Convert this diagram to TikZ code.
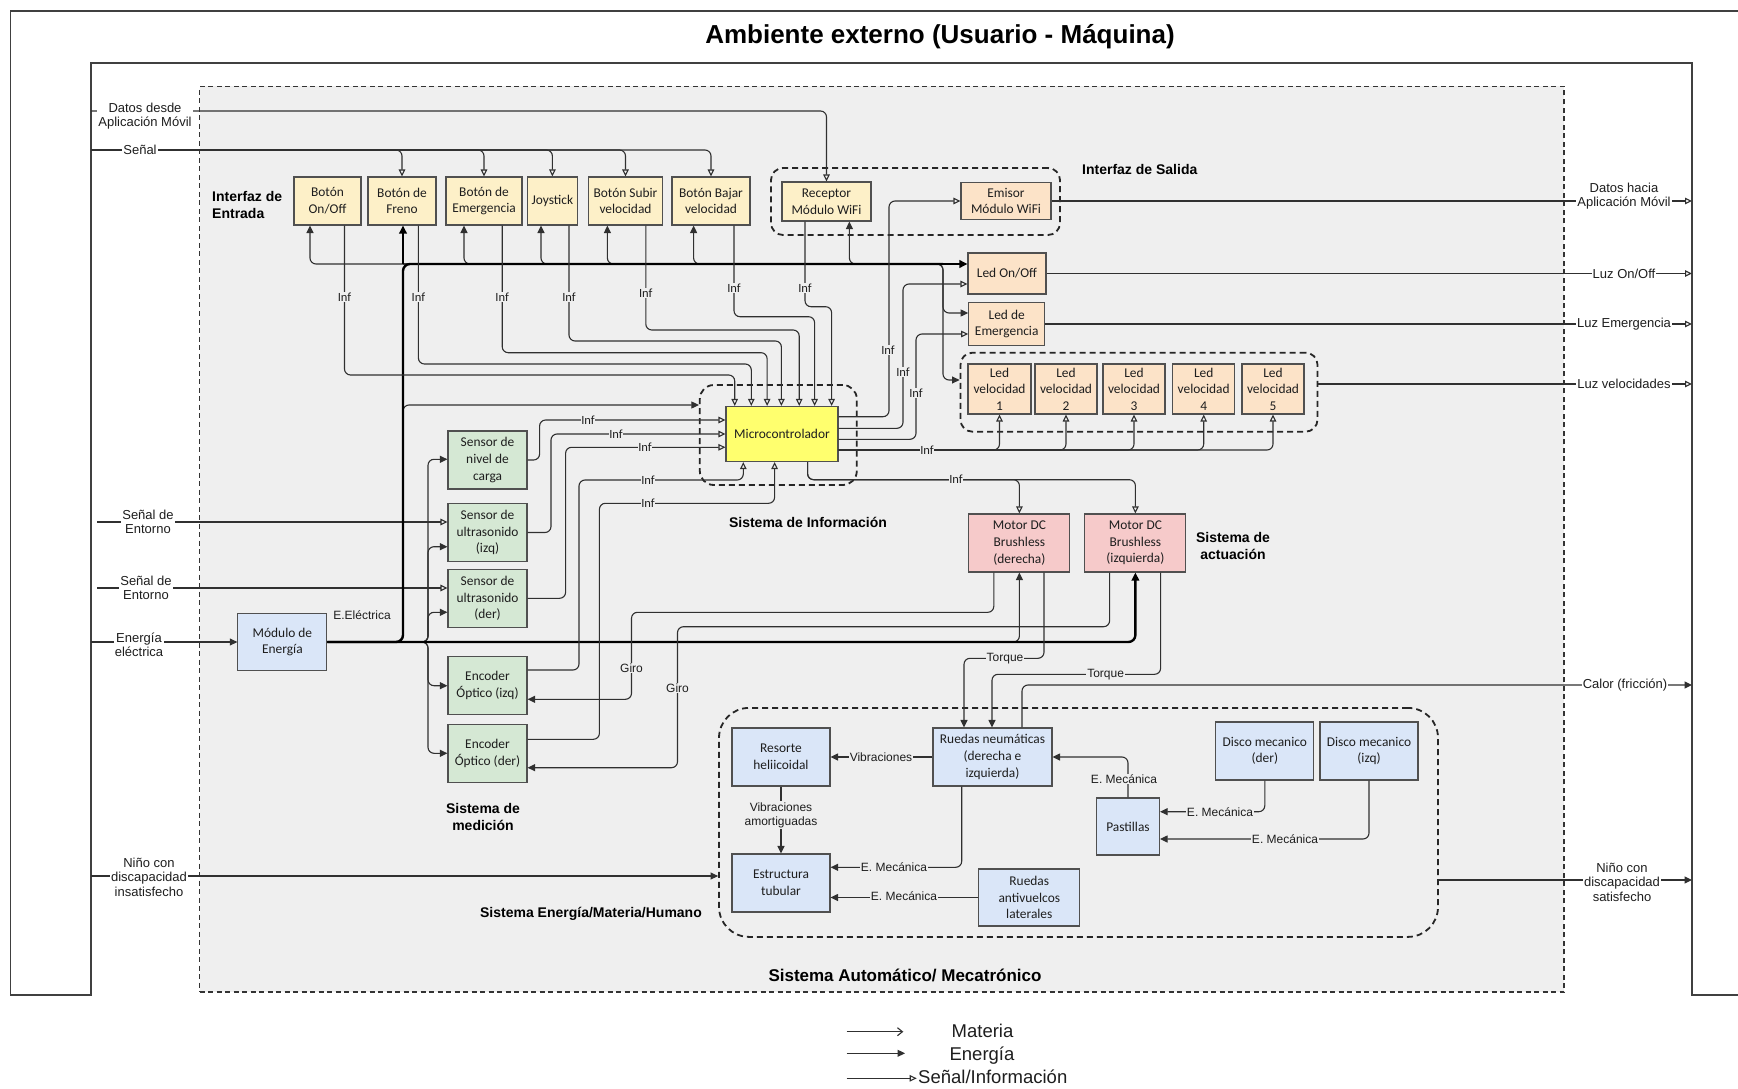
\documentclass[tikz,border=0pt]{standalone}
\usepackage{fontspec}
\setmainfont{Liberation Sans}
\newfontfamily\boxfont{Carlito}
\usetikzlibrary{arrows.meta}
\definecolor{lc}{HTML}{303030}
\definecolor{bd}{HTML}{505050}
\definecolor{txt}{HTML}{1E1E1E}
\definecolor{cbg}{HTML}{EFEFEF}
\definecolor{cyel}{HTML}{FDF0C8}
\definecolor{cmic}{HTML}{FFFF6E}
\definecolor{cled}{HTML}{FCE3C8}
\definecolor{cmot}{HTML}{F6CACA}
\definecolor{cgrn}{HTML}{D5E8D4}
\definecolor{cblu}{HTML}{DAE6F8}
\begin{document}
\begin{tikzpicture}[x=1pt,y=-1pt]
\tikzset{
  box/.style={draw=bd, line width=1.1pt, align=center, inner sep=0pt, text=txt,
    font=\boxfont\fontsize{13.4}{16.6}\selectfont},
  yel/.style={box, fill=cyel},
  mic/.style={box, fill=cmic},
  ledb/.style={box, fill=cled},
  mot/.style={box, fill=cmot},
  grn/.style={box, fill=cgrn},
  blu/.style={box, fill=cblu},
  grp/.style={draw=black!85, line width=1.8pt, dash pattern=on 6pt off 4pt, rounded corners=12pt, inner sep=0pt},
  sysbox/.style={draw=black!80, fill=cbg, line width=1.3pt, dash pattern=on 5pt off 3.5pt, inner sep=0pt},
  frame/.style={draw=black!75, line width=1.5pt},
  ln/.style={draw=lc, line width=1.1pt, rounded corners=6pt},
  info/.style={ln, -{Triangle[open, length=7pt, width=6.5pt]}},
  enr/.style={ln, -{Triangle[length=7.5pt, width=7pt]}},
  mat/.style={ln, -{Straight Barb[length=5pt, width=8pt]}},
  bus/.style={draw=black, line width=2.4pt, rounded corners=7pt},
  busarr/.style={bus, -{Triangle[length=8pt, width=7.5pt]}},
  elbl/.style={fill=white, inner sep=1pt, align=center, text=txt, font=\fontsize{13}{14.4}\selectfont},
  clbl/.style={fill=cbg, inner sep=1pt, align=center, text=txt, font=\fontsize{12}{14}\selectfont},
  inf/.style={fill=cbg, inner sep=0.6pt, text=txt, font=\boxfont\fontsize{12.5}{13}\selectfont},
  glbl/.style={align=center, inner sep=0pt, text=black, font=\bfseries\fontsize{14}{16.5}\selectfont},
  lgnd/.style={text=txt, inner sep=0pt, font=\fontsize{18.5}{20}\selectfont},
}
\useasboundingbox (0,0) rectangle (1738,1089);
\fill[white] (0,0) rectangle (1738,1089);

% environment frame
\draw[frame] (1738,11) -- (10.5,11) -- (10.5,995) -- (91,995) -- (91,63) -- (1692,63) -- (1692,995) -- (1738,995);
\node[font=\bfseries\fontsize{26}{30}\selectfont, text=black] (title) at (940,37) {Ambiente externo (Usuario - Máquina)};

% system boundary
\node[sysbox, minimum width=1364.5, minimum height=905.5] (sys) at (881.75,539.25) {};
\node[glbl, font=\bfseries\fontsize{17}{20}\selectfont] (tSys) at (905,975) {Sistema Automático/ Mecatrónico};

% sub-system groups
\node[grp, minimum width=289, minimum height=67] (gSal) at (915.5,201.5) {};
\node[grp, rounded corners=14pt, minimum width=157, minimum height=100] (gMic) at (778.3,435) {};
\node[grp, minimum width=357, minimum height=79] (gLed) at (1139,392.2) {};
\node[grp, rounded corners=30pt, minimum width=719, minimum height=229] (gBot) at (1078.5,822.4) {};

% input interface
\node[yel, minimum width=67, minimum height=48] (onoff) at (327.5,201) {Botón\\On/Off};
\node[yel, minimum width=68, minimum height=48] (freno) at (402,201) {Botón de\\Freno};
\node[yel, minimum width=76, minimum height=48] (emerg) at (484,201) {Botón de\\Emergencia};
\node[yel, minimum width=50, minimum height=48] (joy) at (552.4,201) {Joystick};
\node[yel, minimum width=74, minimum height=48] (subir) at (625.5,201) {Botón Subir\\velocidad};
\node[yel, minimum width=78, minimum height=48] (bajar) at (711,201) {Botón Bajar\\velocidad};
\node[yel, minimum width=89, minimum height=39] (receptor) at (826.5,201.5) {Receptor\\Módulo WiFi};

% output interface
\node[ledb, minimum width=90, minimum height=37] (emisor) at (1006,201) {Emisor\\Módulo WiFi};
\node[ledb, minimum width=78, minimum height=41] (ledonoff) at (1007,273.5) {Led On/Off};
\node[ledb, minimum width=76, minimum height=43] (ledemerg) at (1006.7,324) {Led de\\Emergencia};
\node[ledb, minimum width=63, minimum height=50] (led1) at (999.5,389) {Led\\velocidad\\1};
\node[ledb, minimum width=62, minimum height=50] (led2) at (1066,389) {Led\\velocidad\\2};
\node[ledb, minimum width=62, minimum height=50] (led3) at (1134,389) {Led\\velocidad\\3};
\node[ledb, minimum width=62, minimum height=50] (led4) at (1203.7,389) {Led\\velocidad\\4};
\node[ledb, minimum width=62, minimum height=50] (led5) at (1273,389) {Led\\velocidad\\5};

% information, actuation, measurement, energy
\node[mic, minimum width=112, minimum height=55] (micro) at (782,434) {Microcontrolador};
\node[mot, minimum width=101, minimum height=58] (motorD) at (1019.4,543) {Motor DC\\Brushless\\(derecha)};
\node[mot, minimum width=101, minimum height=58] (motorI) at (1135.4,543) {Motor DC\\Brushless\\(izquierda)};
\node[grn, minimum width=79, minimum height=58] (nivel) at (487.5,460) {Sensor de\\nivel de\\carga};
\node[grn, minimum width=79, minimum height=58] (usI) at (487.5,532.5) {Sensor de\\ultrasonido\\(izq)};
\node[grn, minimum width=79, minimum height=58] (usD) at (487.5,598.3) {Sensor de\\ultrasonido\\(der)};
\node[grn, minimum width=79, minimum height=58] (encI) at (487.5,685.5) {Encoder\\Óptico (izq)};
\node[grn, minimum width=79, minimum height=58] (encD) at (487.5,753.5) {Encoder\\Óptico (der)};
\node[blu, minimum width=89, minimum height=57] (modE) at (282.4,642) {Módulo de\\Energía};

% mechanical subsystem
\node[blu, minimum width=98, minimum height=58] (resorte) at (781,757) {Resorte\\heliicoidal};
\node[blu, minimum width=98, minimum height=58] (estructura) at (781,883) {Estructura\\tubular};
\node[blu, minimum width=119, minimum height=58] (ruedas) at (992.5,757) {Ruedas neumáticas\\(derecha e\\izquierda)};
\node[blu, minimum width=101, minimum height=57] (antiv) at (1029.3,897.5) {Ruedas\\antivuelcos\\laterales};
\node[blu, minimum width=63, minimum height=57] (pastillas) at (1128,826.5) {Pastillas};
\node[blu, minimum width=98, minimum height=58] (discoD) at (1264.8,751) {Disco mecanico\\(der)};
\node[blu, minimum width=98, minimum height=58] (discoI) at (1369,751) {Disco mecanico\\(izq)};

% free ends on the environment frame and bus junctions
\coordinate (inDatos) at (91,111);
\coordinate (inSenal) at (91,150);
\coordinate (inEnt1) at (97,522);
\coordinate (inEnt2) at (97,588);
\coordinate (inEner) at (91,642);
\coordinate (inNino) at (91,876);
\coordinate (outDatos) at (1692,201);
\coordinate (outOnOff) at (1692,273.5);
\coordinate (outEmerg) at (1692,324);
\coordinate (outVel) at (1692,384);
\coordinate (outCalor) at (1692,685);
\coordinate (outNino) at (1692,880);
\coordinate (bNW) at (403,264);
\coordinate (bNE) at (943,264);

% external inputs
\draw[info] (inDatos) -| (receptor.north);
\foreach \b in {freno,emerg,joy,subir,bajar} \draw[info] (inSenal) -| (\b.north);
\draw[info] (inEnt1) -- (usI.west |- inEnt1);
\draw[info] (inEnt2) -- (usD.west |- inEnt2);
\draw[enr] (inEner) -- (modE.west);
\draw[enr] (inNino) -- (gBot.west |- inNino);

% external outputs
\draw[info] (emisor.east) -- (outDatos);
\draw[info] (ledonoff.east) -- (outOnOff);
\draw[info] (ledemerg.east) -- (outEmerg);
\draw[info] (gLed.east |- outVel) -- (outVel);
\draw[enr] (ruedas.north -| 1022,0) |- (outCalor);
\draw[enr] (gBot.east |- outNino) -- (outNino);

% energy branches
\draw[enr] (bNE) -| (onoff.south -| 310,0);
\draw[enr] (bNE) -| (emerg.south -| 464,0);
\draw[enr] (bNE) -| (joy.south -| 541,0);
\draw[enr] (bNE) -| (subir.south -| 607.4,0);
\draw[enr] (bNE) -| (bajar.south -| 693.6,0);
\draw[enr] (bNE) -| (receptor.south -| 849.4,0);
\draw[enr] (bNW) -| (943,313) -- (ledemerg.west |- 0,313);
\draw[enr] (bNW) -| (943,380) -- (gLed.west |- 0,380);
\draw[enr] (modE.east) -| (403,405) -- (gMic.west |- 0,405);
\foreach \s/\y in {nivel/459.3, usI/546.7, usD/612.3, encI/685.7, encD/753.3}
  \draw[enr] (modE.east) -| (428,\y) -- (\s.west |- 0,\y);
\draw[enr] (modE.east) -| (motorD.south);

% power bus
\draw[bus] (modE.east) -| (bNW) -- (bNE);
\draw[busarr] (bNW) -- (freno.south -| bNW);
\draw[busarr] (bNE) -- (ledonoff.west |- bNE);
\draw[busarr] (modE.east) -| (motorI.south);

% input interface -> microcontroller
\foreach \b/\x/\l/\t in {onoff/344.5/375/734.7, freno/418.4/364/751.3, emerg/502.2/352.7/767.1, joy/569/341/781.4, subir/645.8/330/799.2, bajar/734/316.7/814.6, receptor/805/306.7/831.6}
  \draw[info] (\b.south -| \x,0) |- (\t,\l) -- (micro.north -| \t,0);

% microcontroller -> outputs
\draw[info] (micro.east |- 0,416.7) -| (889,201) -- (emisor.west);
\draw[info] (micro.east |- 0,428.3) -| (903,284) -- (ledonoff.west |- 0,284);
\draw[info] (micro.east |- 0,439.3) -| (916,334) -- (ledemerg.west |- 0,334);
\foreach \k in {1,...,5} \draw[info] (micro.east |- 0,450) -| (led\k.south);
\draw[info] (micro.south -| 807.6,0) -- (807.6,479.7) -| (motorD.north);
\draw[info] (micro.south -| 807.6,0) -- (807.6,479.7) -| (motorI.north);

% sensors -> microcontroller
\draw[info] (nivel.east) -| (539.6,420) -- (micro.west |- 0,420);
\draw[info] (usI.east) -| (551,434) -- (micro.west |- 0,434);
\draw[info] (usD.east) -| (565.6,447.3) -- (micro.west |- 0,447.3);
\draw[info] (encI.east |- 0,670) -| (579,480) -| (micro.south -| 743.3,0);
\draw[info] (encD.east |- 0,739.3) -| (599.4,503.3) -| (micro.south -| 774.6,0);

% motors -> encoders and wheels
\draw[enr] (motorD.south -| 993.8,0) |- (631.5,612.3) |- (encI.east |- 0,699.3);
\draw[enr] (motorI.south -| 1109.6,0) |- (677.5,626.7) |- (encD.east |- 0,767.7);
\draw[enr] (motorD.south -| 1044,0) |- (964,658.3) -- (ruedas.north -| 964,0);
\draw[enr] (motorI.south -| 1160.6,0) |- (992,674.3) -- (ruedas.north -| 992,0);

% mechanical flows
\draw[enr] (ruedas.west) -- (resorte.east);
\draw[enr] (resorte.south) -- (estructura.north);
\draw[enr] (ruedas.south -| 961.7,0) |- (estructura.east |- 0,867.3);
\draw[enr] (antiv.west) -- (estructura.east |- antiv.west);
\draw[enr] (pastillas.north) |- (ruedas.east);
\draw[enr] (discoD.south) |- (pastillas.east |- 0,811.7);
\draw[enr] (discoI.south) |- (pastillas.east |- 0,839);

% external labels
\node[elbl] (lDatos) at (145,116) {Datos desde\\Aplicación Móvil};
\node[elbl] (lSenal) at (140,150) {Señal};
\node[elbl] (lEnt1) at (148,522) {Señal de\\Entorno};
\node[elbl] (lEnt2) at (146,588) {Señal de\\Entorno};
\node[elbl] (lEner) at (139,645) {Energía\\eléctrica};
\node[elbl] (lNinoIn) at (149,877) {Niño con\\discapacidad\\insatisfecho};
\node[elbl] (lDatosOut) at (1624,196) {Datos hacia\\Aplicación Móvil};
\node[elbl] (lLuz1) at (1624,273.5) {Luz On/Off};
\node[elbl] (lLuz2) at (1624,324) {Luz Emergencia};
\node[elbl] (lLuz3) at (1624,384) {Luz velocidades};
\node[elbl] (lCalor) at (1625,685) {Calor (fricción)};
\node[elbl] (lNinoOut) at (1622,882) {Niño con\\discapacidad\\satisfecho};

% flow labels
\foreach \x/\y [count=\i] in {344.5/297, 418.4/297, 502.2/297, 569/297, 645.8/293, 734/288, 805/288, 888/350, 903/372, 916/393, 927/450, 956/479.7, 588/420, 616/434, 645/447.3, 648/480, 648/503.3}
  \node[inf] (inf\i) at (\x,\y) {Inf};
\node[clbl, fill=none] (lEE) at (362,615) {E.Eléctrica};
\node[clbl] (lGiro1) at (631.5,668) {Giro};
\node[clbl] (lGiro2) at (677.5,688) {Giro};
\node[clbl] (lTorq1) at (1005,658.3) {Torque};
\node[clbl] (lTorq2) at (1105.6,674.3) {Torque};
\node[clbl] (lVib) at (881,757) {Vibraciones};
\node[clbl] (lVibA) at (781,815) {Vibraciones\\amortiguadas};
\node[clbl] (lEM1) at (894,867.3) {E. Mecánica};
\node[clbl] (lEM2) at (904,896) {E. Mecánica};
\node[clbl] (lEM3) at (1124,779) {E. Mecánica};
\node[clbl] (lEM4) at (1220,811.7) {E. Mecánica};
\node[clbl] (lEM5) at (1285,839) {E. Mecánica};

% subsystem titles
\node[glbl, align=left, anchor=west] (tEntrada) at (212,205) {Interfaz de\\Entrada};
\node[glbl, anchor=west] (tSalida) at (1082,169) {Interfaz de Salida};
\node[glbl] (tInfo) at (808,522) {Sistema de Información};
\node[glbl] (tAct) at (1233,546) {Sistema de\\actuación};
\node[glbl] (tMed) at (483,817) {Sistema de\\medición};
\node[glbl] (tEMH) at (591,914) {Sistema Energía/Materia/Humano};

% legend
\coordinate (lgM) at (846.7,1031.7);
\coordinate (lgMe) at (903.3,1031.7);
\coordinate (lgE) at (846.7,1053.3);
\coordinate (lgEe) at (905,1053.3);
\coordinate (lgS) at (846.7,1078.3);
\coordinate (lgSe) at (916.7,1078.3);
\draw[mat] (lgM) -- (lgMe);
\draw[enr] (lgE) -- (lgEe);
\draw[info] (lgS) -- (lgSe);
\node[lgnd] (tM) at (982.5,1031) {Materia};
\node[lgnd] (tE) at (982,1055.5) {Energía};
\node[lgnd, anchor=west] (tS) at (918,1077) {Señal/Información};
\end{tikzpicture}
\end{document}
